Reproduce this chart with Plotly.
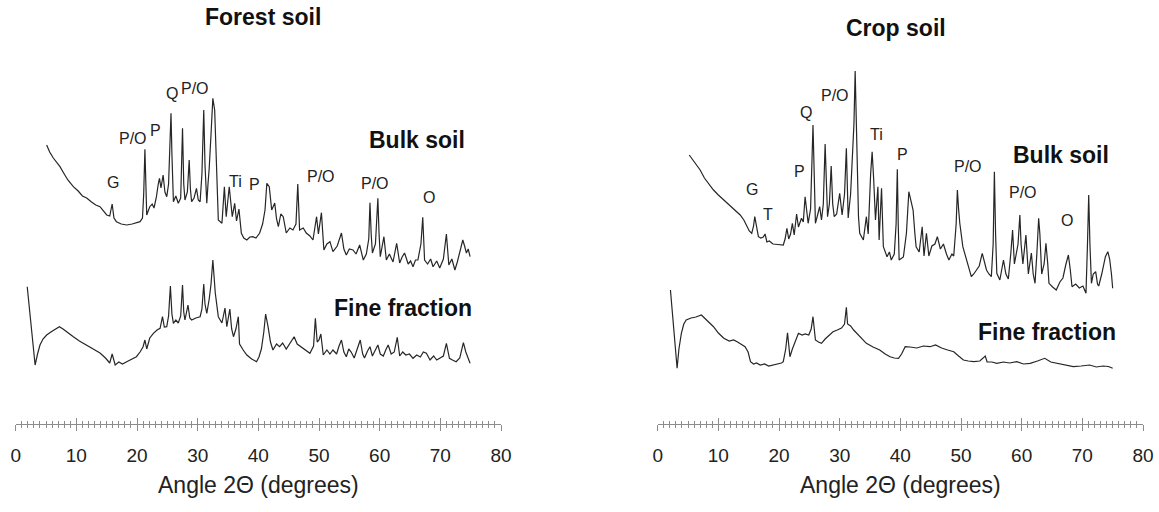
import plotly.graph_objects as go

# ---------------- data (2-theta in degrees, intensity in a.u., patterns stacked) ----------------
forest_bulk = [
    (5.1, 279), (5.6, 272), (6.2, 266), (7.3, 257.3), (8.0, 250), (8.6, 244), (9.5, 237.3), (10.3, 233),
    (11.0, 228), (11.7, 226), (12.5, 222), (13.2, 219), (13.9, 217.3), (14.5, 213), (15.0, 209), (15.5, 208),
    (15.9, 220), (16.2, 206), (16.6, 202.3), (17.4, 200), (18.3, 199), (19.2, 200), (20.0, 201), (20.5, 202.3),
    (20.9, 206), (21.1, 230), (21.3, 274.7), (21.45, 230), (21.6, 209), (22.1, 217.3), (22.5, 220), (22.8, 216),
    (23.2, 227.3), (23.5, 240), (23.7, 245.7), (23.95, 236), (24.3, 249), (24.6, 232), (24.9, 227.3), (25.2, 240),
    (25.45, 280), (25.6, 310.7), (25.75, 270), (26.0, 222.3), (26.4, 228), (26.8, 220.7), (27.2, 226), (27.5, 295.7),
    (27.7, 240), (27.9, 224), (28.3, 232), (28.6, 264), (28.8, 235), (29.0, 222.3), (29.4, 226), (29.8, 235.7),
    (30.1, 224), (30.4, 222.3), (30.7, 250), (31.0, 314), (31.2, 260), (31.5, 220.7), (31.7, 240), (31.9, 255.7),
    (32.2, 290), (32.5, 325.7), (32.8, 314), (33.1, 247.3), (33.4, 204), (34.0, 200.7), (34.4, 237.3), (34.7, 207.3),
    (35.2, 237.3), (35.7, 207.3), (36.1, 220.7), (36.4, 203), (36.8, 215), (37.2, 190.7), (37.6, 186), (38.1, 184),
    (38.6, 187), (39.1, 187.3), (39.6, 186), (40.2, 190.7), (40.7, 200), (41.1, 214), (41.4, 240.7), (41.8, 237.3),
    (42.2, 214), (42.7, 221), (43.0, 205), (43.3, 197.3), (43.7, 210), (44.1, 207.3), (44.6, 191), (45.2, 196),
    (45.7, 194), (46.2, 200), (46.5, 240), (46.8, 194), (47.4, 196), (47.9, 191), (48.5, 188), (49.0, 184),
    (49.3, 195), (49.6, 207.3), (49.9, 190), (50.4, 211.3), (50.8, 174), (51.3, 180), (51.8, 182.3), (52.3, 172.3),
    (53.0, 178), (53.7, 191), (54.1, 175), (54.5, 169), (55.0, 175), (55.6, 174), (56.1, 170), (56.7, 179),
    (57.3, 164), (57.8, 170), (58.2, 185), (58.4, 221.3), (58.6, 190), (58.8, 171), (59.3, 180), (59.7, 225.7),
    (59.9, 190), (60.1, 167.3), (60.7, 187.3), (61.1, 164), (61.6, 170), (62.2, 162), (62.8, 180.7), (63.3, 161),
    (63.7, 167), (64.1, 171), (64.7, 160), (65.1, 163), (65.5, 157.3), (65.9, 164), (66.3, 164), (66.8, 180),
    (67.1, 206.7), (67.4, 164), (67.9, 160), (68.4, 165), (68.8, 157.3), (69.4, 163), (69.9, 156), (70.5, 165),
    (71.0, 190), (71.4, 159), (71.9, 165), (72.4, 154), (72.8, 162), (73.2, 170.7), (73.7, 184), (74.0, 178),
    (74.3, 171), (74.6, 175), (74.9, 167.3),
]
forest_fine = [
    (1.9, 137.3), (2.5, 100), (3.2, 59), (3.6, 70), (4.0, 79), (4.5, 85), (5.1, 89), (5.8, 92), (6.5, 95),
    (7.2, 97.3), (7.8, 95), (8.6, 91), (9.5, 87.3), (10.5, 83), (11.7, 79), (12.8, 75), (13.9, 71), (14.8, 66),
    (15.5, 61), (15.9, 70), (16.4, 59), (17.0, 62), (17.6, 60), (18.3, 62.3), (19.1, 65), (19.9, 67.3), (20.5, 72),
    (21.0, 77.3), (21.3, 84), (21.6, 75), (22.1, 86), (22.7, 90.7), (23.3, 94), (23.8, 95.7), (24.2, 107.3),
    (24.5, 97), (24.9, 97.3), (25.2, 108), (25.5, 138), (25.75, 110), (26.0, 100.7), (26.4, 104), (26.8, 101),
    (27.2, 108), (27.5, 139), (27.7, 112), (27.9, 104), (28.4, 119), (28.7, 106), (29.0, 104), (29.7, 106),
    (30.4, 107.3), (30.7, 115), (31.0, 140), (31.2, 120), (31.5, 110.7), (31.9, 125), (32.2, 140), (32.5, 164),
    (32.7, 150), (32.9, 131), (33.4, 107.3), (34.0, 101), (34.5, 116), (34.8, 97.3), (35.3, 115), (35.6, 95),
    (35.9, 87.3), (36.3, 95), (36.7, 107.3), (36.9, 80), (37.5, 74), (38.1, 69), (38.9, 65), (39.7, 62.3),
    (40.1, 67), (40.5, 75), (40.9, 92), (41.2, 110), (41.6, 97.3), (42.0, 82), (42.4, 74), (43.0, 80), (43.5, 77.3),
    (44.0, 81), (44.6, 75), (45.3, 82), (45.9, 87.3), (46.4, 80), (47.0, 77.3), (47.7, 74), (48.5, 70.7), (49.1, 78),
    (49.4, 105.7), (49.7, 82), (50.0, 84), (50.3, 90), (50.7, 69), (51.3, 74), (51.8, 70), (52.3, 74), (52.9, 70),
    (53.3, 78), (53.7, 84), (54.1, 72), (54.5, 67.3), (54.9, 75), (55.3, 72), (55.8, 66), (56.3, 74), (56.8, 84),
    (57.2, 70), (57.5, 66), (58.0, 73), (58.4, 77.3), (58.8, 68), (59.3, 74), (59.7, 79), (60.1, 70), (60.6, 68),
    (61.0, 74), (61.4, 79), (61.9, 70), (62.4, 72), (62.9, 86.7), (63.3, 68), (63.8, 72), (64.3, 69), (64.9, 70),
    (65.5, 65.7), (66.1, 69), (66.7, 67), (67.2, 72), (67.7, 70.7), (68.3, 64), (68.9, 68), (69.4, 64), (70.0, 66),
    (70.5, 68), (71.0, 80.7), (71.5, 65.7), (72.0, 64), (72.6, 62.3), (73.2, 66), (73.8, 81.3), (74.2, 72),
    (74.6, 66), (74.9, 60.7),
]
crop_bulk = [
    (5.2, 269), (5.8, 264), (6.4, 258), (7.0, 254), (7.7, 246), (8.4, 240), (9.2, 234), (10.0, 229), (10.7, 225),
    (11.4, 220.7), (12.1, 217), (12.9, 213), (13.6, 209), (14.2, 204), (14.7, 197.3), (15.1, 193), (15.5, 190.7),
    (15.8, 198), (16.0, 207.3), (16.3, 195), (16.6, 187.3), (17.0, 186), (17.4, 187), (17.7, 190), (18.0, 182),
    (18.4, 183), (19.0, 180), (19.8, 179.5), (20.7, 179), (21.0, 185), (21.3, 195.7), (21.6, 185), (21.9, 190),
    (22.2, 200.7), (22.5, 189), (22.9, 210), (23.2, 197), (23.7, 205.7), (24.0, 202), (24.3, 227.3), (24.6, 210),
    (24.8, 200.7), (25.2, 215), (25.45, 260), (25.6, 299), (25.8, 250), (26.0, 200.7), (26.4, 210), (26.7, 217.3),
    (27.0, 204), (27.3, 220), (27.6, 280), (27.8, 230), (28.0, 207.3), (28.3, 220), (28.6, 258), (28.85, 220),
    (29.1, 207.3), (29.5, 210), (30.0, 230.7), (30.4, 209), (30.8, 230), (31.1, 275.7), (31.3, 230), (31.4, 206),
    (31.8, 230), (32.1, 267.3), (32.35, 300), (32.55, 353), (32.7, 320), (32.8, 287.3), (33.1, 207.3), (33.3, 190.7),
    (33.9, 184), (34.4, 207.3), (34.7, 190), (35.1, 250), (35.35, 272.3), (35.6, 245), (35.9, 204), (36.3, 237.3),
    (36.5, 184), (36.9, 235.7), (37.2, 177.3), (37.8, 167.3), (38.2, 172), (38.5, 164), (39.0, 170), (39.3, 200),
    (39.5, 254.7), (39.65, 200), (39.8, 164), (40.5, 167), (41.0, 190.7), (41.4, 232.3), (41.7, 224), (42.1, 214),
    (42.4, 190), (42.6, 177.3), (43.1, 172), (43.6, 197.3), (43.9, 168), (44.3, 190.7), (44.7, 168), (45.2, 178),
    (45.7, 180), (46.1, 187.3), (46.6, 175), (47.1, 180), (47.6, 170), (48.0, 164), (48.5, 170), (48.8, 168),
    (49.2, 200), (49.4, 234), (49.6, 215), (49.8, 200.7), (50.3, 177.3), (50.9, 164), (51.3, 155), (51.7, 147.3),
    (52.1, 150), (52.5, 154), (53.0, 158), (53.5, 170.7), (53.9, 160), (54.2, 154), (54.6, 150), (55.0, 147.3),
    (55.3, 180), (55.5, 252.3), (55.7, 190), (55.9, 150.7), (56.4, 144), (57.0, 164), (57.4, 150), (57.8, 145),
    (58.2, 170), (58.5, 194), (58.8, 160), (59.1, 170), (59.4, 180), (59.7, 209), (59.9, 180), (60.2, 160),
    (60.7, 189), (61.1, 150), (61.6, 171), (61.9, 150), (62.2, 140.7), (62.5, 170), (62.8, 205.7), (63.0, 190),
    (63.3, 150), (63.7, 160), (64.0, 180.7), (64.3, 160), (64.5, 140.7), (65.1, 137), (65.7, 134), (66.3, 142),
    (66.8, 146), (67.3, 160), (67.7, 169), (68.0, 155), (68.3, 137.3), (68.9, 140), (69.5, 136), (70.1, 138),
    (70.6, 130.7), (70.85, 180), (71.05, 229), (71.25, 180), (71.5, 140.7), (71.8, 150), (72.2, 152.3), (72.5, 140),
    (72.7, 138), (73.2, 150), (73.8, 167.3), (74.2, 172.3), (74.5, 165), (74.8, 150), (75.0, 135.7),
]
crop_fine = [
    (2.1, 134), (2.6, 100), (3.2, 55.7), (3.5, 75), (3.9, 90.7), (4.3, 100), (4.7, 104), (5.5, 106), (6.3, 107),
    (7.2, 109), (8.0, 104), (8.6, 101), (9.2, 97.3), (10.0, 91), (10.9, 85.7), (11.8, 83), (12.5, 84), (13.1, 82.3),
    (13.8, 80), (14.4, 77.3), (14.9, 72), (15.3, 62.3), (15.8, 60), (16.3, 61), (16.9, 59), (17.6, 60), (18.3, 58),
    (19.0, 59), (19.8, 59.5), (20.4, 61), (20.7, 62.3), (21.1, 75), (21.4, 91.3), (21.6, 75), (21.8, 67.3),
    (22.2, 75), (22.6, 80.7), (23.2, 90.7), (23.8, 89), (24.3, 90), (24.9, 89), (25.3, 95), (25.6, 107.3),
    (25.8, 92), (26.0, 84), (26.5, 82), (27.0, 80.7), (27.6, 85), (28.2, 88), (28.9, 92.3), (29.6, 94), (30.3, 96),
    (30.8, 100), (31.1, 116.7), (31.3, 100), (31.8, 98), (32.3, 94), (32.8, 90.7), (33.5, 86), (34.4, 80.7),
    (35.5, 77), (36.6, 74), (37.5, 70), (38.3, 67.3), (39.0, 66), (39.7, 65.7), (40.2, 70), (40.8, 77.3),
    (41.6, 77), (42.7, 76), (43.8, 78), (44.9, 77.3), (45.8, 79), (46.8, 76), (47.8, 74), (48.8, 72.3), (49.6, 68),
    (50.4, 64), (51.2, 63), (52.1, 62.3), (53.1, 63), (53.6, 66), (54.0, 68), (54.3, 62), (55.1, 62), (55.9, 60.7),
    (57.0, 62), (58.0, 61), (59.2, 62.3), (60.3, 60), (61.4, 60.7), (62.6, 63), (63.8, 65.7), (64.8, 62),
    (65.7, 60.7), (67.0, 59), (68.5, 57.3), (69.8, 58), (71.2, 59), (72.3, 57), (73.4, 58), (74.3, 57.5),
    (75.0, 55.7),
]

# peak labels: (text, 2-theta, intensity)
forest_labels = [("G", 16.0, 241.3), ("P/O", 19.4, 285.7), ("P", 23.0, 293.3), ("Q", 25.7, 330.7),
                 ("P/O", 29.5, 335.7), ("Ti", 36.3, 242.3), ("P", 39.3, 240), ("P/O", 50.4, 247.3),
                 ("P/O", 59.3, 240.7), ("O", 68.1, 226.7)]
crop_labels = [("G", 15.6, 234.7), ("T", 18.2, 210), ("P", 23.4, 252.3), ("Q", 24.5, 311.3),
               ("P/O", 29.2, 329), ("Ti", 36.0, 290), ("P", 40.3, 270), ("P/O", 51.2, 258),
               ("P/O", 60.2, 231.3), ("O", 67.4, 203.3)]

panel_titles = ["Forest soil", "Crop soil"]
series_names = ["Bulk soil", "Fine fraction"]
x_ticks = [0, 10, 20, 30, 40, 50, 60, 70, 80]
x_title = "Angle 2Θ (degrees)"

# ---------------- figure ----------------
FONT = "Liberation Sans, Arial, Helvetica, sans-serif"
LINE = "#262626"
AXC = "#8c8c8c"
W, H = 1159, 512
PLOT_BOTTOM = 424

fig = go.Figure()

def add_curve(pts, xa, ya):
    fig.add_trace(go.Scatter(x=[p[0] for p in pts], y=[p[1] for p in pts], mode="lines",
                             line=dict(color=LINE, width=1.2), xaxis=xa, yaxis=ya,
                             showlegend=False, hoverinfo="skip"))

add_curve(forest_bulk, "x", "y")
add_curve(forest_fine, "x", "y")
add_curve(crop_bulk, "x2", "y2")
add_curve(crop_fine, "x2", "y2")
# invisible traces so the overlay (inside-tick) axes are drawn
fig.add_trace(go.Scatter(x=[0], y=[-50], mode="markers", marker=dict(opacity=0), xaxis="x3", yaxis="y",
                         showlegend=False, hoverinfo="skip"))
fig.add_trace(go.Scatter(x=[0], y=[-50], mode="markers", marker=dict(opacity=0), xaxis="x4", yaxis="y2",
                         showlegend=False, hoverinfo="skip"))

dom_l = [15.7 / W, 501 / W]
dom_r = [657.7 / W, 1143 / W]

def main_axis(dom):
    return dict(domain=dom, range=[0, 80], showline=True, linecolor=AXC, linewidth=1,
                ticks="outside", ticklen=6, tickwidth=1, tickcolor=AXC,
                tickvals=x_ticks, ticktext=[str(t) for t in x_ticks],
                tickfont=dict(family=FONT, size=19, color="#222"), ticklabelstandoff=8,
                minor=dict(dtick=1, ticks="outside", ticklen=3, tickcolor=AXC, tickwidth=1, showgrid=False),
                showgrid=False, zeroline=False, fixedrange=True, automargin=False)

def overlay_axis(base):
    return dict(overlaying=base, range=[0, 80], showline=False, ticks="inside", ticklen=6, tickwidth=1,
                tickcolor=AXC, tickvals=x_ticks, showticklabels=False,
                minor=dict(dtick=1, ticks="inside", ticklen=3, tickcolor=AXC, tickwidth=1, showgrid=False),
                showgrid=False, zeroline=False, fixedrange=True, automargin=False)

yax = dict(range=[0, PLOT_BOTTOM], visible=False, fixedrange=True)

fig.update_layout(
    width=W, height=H, autosize=False, margin=dict(l=0, r=0, t=0, b=H - PLOT_BOTTOM, pad=0),
    paper_bgcolor="white", plot_bgcolor="white", showlegend=False,
    xaxis=main_axis(dom_l), xaxis2=main_axis(dom_r),
    xaxis3=dict(overlay_axis("x"), anchor="y"), xaxis4=dict(overlay_axis("x2"), anchor="y2"),
    yaxis=dict(yax, anchor="x"), yaxis2=dict(yax, anchor="x2"),
)

def note(text, xref, yref, x, y, size, color="#222"):
    return dict(text=text, xref=xref, yref=yref, x=x, y=y, xanchor="center", yanchor="middle",
                showarrow=False, font=dict(family=FONT, size=size, color=color))

def paper_y(py):
    return (PLOT_BOTTOM - py) / PLOT_BOTTOM

ann = []
ann.append(note("<b>%s</b>" % panel_titles[0], "paper", "paper", 263 / W, paper_y(17), 23, "#111"))
ann.append(note("<b>%s</b>" % panel_titles[1], "paper", "paper", 896 / W, paper_y(28), 23, "#111"))
for dom in (dom_l, dom_r):
    ann.append(note(x_title, "paper", "paper", (dom[0] + dom[1]) / 2, paper_y(485), 23))
ann.append(note("<b>%s</b>" % series_names[0], "x", "y", 66.1, 284, 23, "#111"))
ann.append(note("<b>%s</b>" % series_names[1], "x", "y", 63.8, 116, 23, "#111"))
ann.append(note("<b>%s</b>" % series_names[0], "x2", "y2", 66.4, 269, 23, "#111"))
ann.append(note("<b>%s</b>" % series_names[1], "x2", "y2", 64.1, 92.3, 23, "#111"))
for t, x, y in forest_labels:
    ann.append(note(t, "x", "y", x, y, 16))
for t, x, y in crop_labels:
    ann.append(note(t, "x2", "y2", x, y, 16))
fig.update_layout(annotations=ann)

fig.write_html("out.html", config={"responsive": False, "displayModeBar": False},
               post_script="document.body.style.margin='0px';")
